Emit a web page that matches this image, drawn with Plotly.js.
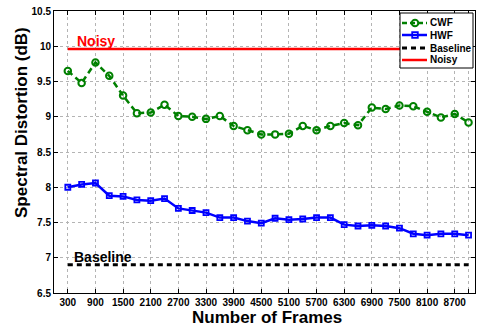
<!DOCTYPE html>
<html>
<head>
<meta charset="utf-8">
<script src="https://cdn.plot.ly/plotly-3.0.1.min.js"></script>
<style>html,body{margin:0;padding:0;background:#fff;}#chart{width:481px;height:326px;}</style>
</head>
<body>
<div id="chart"></div>
<script>
// ---- data ----
const frames = [300,600,900,1200,1500,1800,2100,2400,2700,3000,3300,3600,3900,4200,4500,
                4800,5100,5400,5700,6000,6300,6600,6900,7200,7500,7800,8100,8400,8700,9000];
const cwf = [9.65,9.48,9.77,9.58,9.30,9.05,9.06,9.17,9.01,9.00,8.97,9.01,8.87,8.81,8.75,
             8.75,8.76,8.87,8.81,8.87,8.91,8.88,9.13,9.11,9.16,9.15,9.07,8.99,9.04,8.92];
const hwf = [8.00,8.04,8.06,7.88,7.87,7.82,7.81,7.84,7.70,7.67,7.64,7.57,7.57,7.52,7.49,
             7.56,7.54,7.55,7.57,7.57,7.47,7.45,7.46,7.45,7.42,7.34,7.32,7.34,7.34,7.32];
const baselineX = [300, 9000];
const baselineY = [6.90, 6.90];
const noisyX = [300, 9000];
const noisyY = [9.96, 9.96];
const xTickVals = [300,900,1500,2100,2700,3300,3900,4500,5100,5700,6300,6900,7500,8100,8700,9000];
const xTickText = ['300','900','1500','2100','2700','3300','3900','4500','5100','5700','6300','6900','7500','8100','8700',''];
const yTickVals = [6.5,7,7.5,8,8.5,9,9.5,10,10.5];
const yTickText = ['6.5','7','7.5','8','8.5','9','9.5','10','10.5'];
const seriesNames = ['CWF','HWF','Baseline','Noisy'];

// ---- styling ----
const FONT = 'Liberation Sans, Arial, Helvetica, sans-serif';
const GREEN = '#008000', BLUE = '#0000ff', RED = '#ff0000', BLACK = '#000000';
const L = 54, R = 475, T = 11, B = 293;
const px = x => (x - L) / (R - L);
const py = y => (B - y) / (B - T);

const traces = [
  {x: noisyX, y: noisyY, name: seriesNames[3], mode: 'lines',
   line: {color: RED, width: 2.5}},
  {x: baselineX, y: baselineY, name: seriesNames[2], mode: 'lines',
   line: {color: BLACK, width: 3, dash: '5px,4px'}},
  {x: frames, y: hwf, name: seriesNames[1], mode: 'lines+markers',
   line: {color: BLUE, width: 2.5},
   marker: {symbol: 'square-open', size: 5, color: BLUE, line: {width: 1.8, color: BLUE}}},
  {x: frames, y: cwf, name: seriesNames[0], mode: 'lines+markers',
   line: {color: GREEN, width: 2.5, dash: '6px,4px'},
   marker: {symbol: 'circle-open', size: 6.5, color: GREEN, line: {width: 2, color: GREEN}}}
];

// legend (drawn manually to match compact MATLAB legend)
const legY = [23, 35, 48, 60];
const shapes = [
  {type: 'rect', xref: 'paper', yref: 'paper', x0: px(400), x1: px(473), y0: py(68), y1: py(13),
   line: {color: BLACK, width: 1}, fillcolor: '#ffffff', layer: 'above'},
  {type: 'line', xref: 'paper', yref: 'paper', x0: px(402), x1: px(427), y0: py(legY[0]), y1: py(legY[0]),
   line: {color: GREEN, width: 2.5, dash: '5px,3px'}, layer: 'above'},
  {type: 'circle', xref: 'paper', yref: 'paper', xsizemode: 'pixel', ysizemode: 'pixel',
   xanchor: px(415), yanchor: py(legY[0]), x0: -3.3, x1: 3.3, y0: -3.3, y1: 3.3,
   line: {color: GREEN, width: 2}, layer: 'above'},
  {type: 'line', xref: 'paper', yref: 'paper', x0: px(402), x1: px(427), y0: py(legY[1]), y1: py(legY[1]),
   line: {color: BLUE, width: 2.5}, layer: 'above'},
  {type: 'rect', xref: 'paper', yref: 'paper', xsizemode: 'pixel', ysizemode: 'pixel',
   xanchor: px(415), yanchor: py(legY[1]), x0: -2.8, x1: 2.8, y0: -2.8, y1: 2.8,
   line: {color: BLUE, width: 1.8}, layer: 'above'},
  {type: 'line', xref: 'paper', yref: 'paper', x0: px(402), x1: px(427), y0: py(legY[2]), y1: py(legY[2]),
   line: {color: BLACK, width: 3, dash: '5px,4px'}, layer: 'above'},
  {type: 'line', xref: 'paper', yref: 'paper', x0: px(402), x1: px(427), y0: py(legY[3]), y1: py(legY[3]),
   line: {color: RED, width: 2.5}, layer: 'above'}
];

const annotations = [
  {text: 'Noisy', xref: 'x', yref: 'y', x: 450, y: noisyY[0], xanchor: 'left', yanchor: 'middle',
   yshift: 8, showarrow: false, font: {family: FONT, size: 14, color: RED, weight: 'bold'}},
  {text: 'Baseline', xref: 'x', yref: 'y', x: 400, y: baselineY[0], xanchor: 'left', yanchor: 'middle',
   yshift: 8, showarrow: false, font: {family: FONT, size: 14, color: BLACK, weight: 'bold'}},
  {text: 'Spectral Distortion (dB)', xref: 'paper', yref: 'paper', x: px(21), y: py(123),
   xanchor: 'center', yanchor: 'middle', textangle: -90, showarrow: false,
   font: {family: FONT, size: 17, color: BLACK, weight: 'bold'}},
  {text: 'Number of Frames', xref: 'paper', yref: 'paper', x: px(267), y: py(317),
   xanchor: 'center', yanchor: 'middle', showarrow: false,
   font: {family: FONT, size: 17, color: BLACK, weight: 'bold'}}
];
seriesNames.forEach((n, i) => {
  annotations.push({text: n, xref: 'paper', yref: 'paper', x: px(428), y: py(legY[i]),
    xanchor: 'left', yanchor: 'middle', showarrow: false,
    font: {family: FONT, size: 10, color: BLACK, weight: 'bold'}});
});

const axisCommon = {
  showline: true, linecolor: BLACK, linewidth: 1, mirror: 'allticks',
  ticks: 'inside', ticklen: 4, tickwidth: 1, tickcolor: BLACK,
  showgrid: true, gridcolor: '#b4b4b4', gridwidth: 1, griddash: 'dot',
  zeroline: false, tickfont: {family: FONT, size: 10, color: BLACK, weight: 'bold'}
};

const layout = {
  width: 481, height: 326,
  margin: {l: L, r: 481 - R, t: T, b: 326 - B, pad: 0},
  paper_bgcolor: '#ffffff', plot_bgcolor: '#ffffff',
  showlegend: false,
  font: {family: FONT, color: BLACK},
  xaxis: Object.assign({}, axisCommon, {range: [0, 9140], tickmode: 'array',
    tickvals: xTickVals, ticktext: xTickText}),
  yaxis: Object.assign({}, axisCommon, {range: [6.5, 10.5], tickmode: 'array',
    tickvals: yTickVals, ticktext: yTickText}),
  shapes: shapes,
  annotations: annotations
};

Plotly.newPlot('chart', traces, layout, {displayModeBar: false, staticPlot: true});
</script>
</body>
</html>
